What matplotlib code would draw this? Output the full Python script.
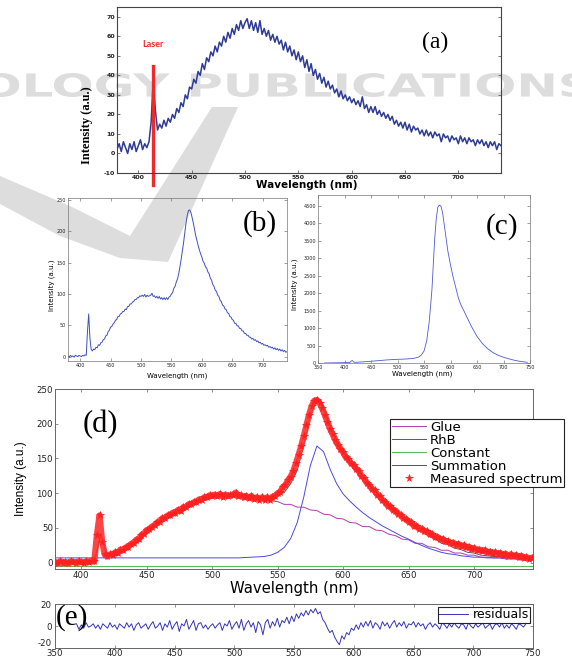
import numpy as np
import matplotlib
matplotlib.use("Agg")
import matplotlib.pyplot as plt
from matplotlib.patches import PathPatch, Polygon
from matplotlib.textpath import TextPath
from matplotlib.font_manager import FontProperties
from matplotlib.transforms import Affine2D

plt.rcParams['font.family'] = ['DejaVu Sans']
plt.rcParams['axes.unicode_minus'] = False

# ---- values ----
# (a) glue fluorescence, 2 nm steps 380..740 nm
wl_a = np.arange(380, 741, 2)
glue_a = [2, 5, 1, 6, 3, 0, 5, 2, 6, 1,
          4, 7, 2, 5, 3, 6, 16, 38, 22, 12,
          15, 13, 17, 14, 18, 16, 20, 18, 23, 21,
          26, 24, 30, 28, 34, 33, 38, 36, 42, 40,
          46, 43, 49, 47, 52, 50, 55, 52, 57, 55,
          60, 57, 62, 59, 64, 61, 66, 63, 68, 64,
          67, 69, 64, 68, 63, 67, 62, 68, 61, 64,
          60, 63, 58, 61, 57, 60, 56, 58, 53, 57,
          52, 55, 50, 53, 48, 52, 47, 50, 44, 48,
          42, 46, 40, 43, 38, 41, 36, 39, 34, 37,
          33, 35, 31, 33, 29, 32, 28, 30, 27, 29,
          26, 28, 25, 27, 24, 29, 23, 25, 21, 24,
          21, 24, 20, 22, 19, 21, 18, 20, 17, 19,
          15, 17, 14, 16, 13, 16, 12, 15, 11, 14,
          12, 13, 10, 12, 9, 12, 9, 11, 8, 11,
          9, 10, 6, 10, 8, 9, 6, 9, 7, 8,
          5, 9, 6, 8, 5, 8, 6, 7, 4, 7,
          5, 7, 4, 6, 3, 6, 4, 6, 2, 5,
          4]
laser_nm = 413.5

# measured spectrum, (b) line and (d) red stars, 2 nm steps 380..744 nm
wl_meas = np.arange(380, 745, 2)
measured = [1, -1, 2, 0, 1, -1, 2, 1, 0, 2,
            1, 0, 2, 1, 3, 2, 40, 68, 30, 12,
            9, 12, 11, 15, 14, 19, 18, 22, 23, 27,
            28, 33, 34, 40, 42, 47, 48, 52, 54, 58,
            59, 64, 64, 68, 69, 72, 72, 76, 75, 80,
            80, 84, 84, 87, 88, 91, 91, 94, 94, 97,
            96, 98, 96, 99, 95, 98, 96, 97, 98, 101,
            96, 97, 94, 96, 93, 96, 92, 94, 91, 94,
            91, 94, 91, 95, 96, 100, 102, 109, 112, 119,
            124, 132, 143, 155, 168, 182, 198, 213, 225, 233,
            234, 230, 222, 213, 203, 193, 185, 177, 170, 164,
            159, 152, 149, 143, 141, 135, 132, 125, 122, 115,
            112, 106, 104, 98, 96, 90, 88, 82, 81, 76,
            75, 70, 69, 64, 63, 59, 58, 53, 53, 49,
            49, 45, 45, 41, 41, 37, 37, 34, 34, 31,
            31, 28, 29, 26, 27, 24, 25, 22, 23, 20,
            21, 18, 19, 17, 18, 15, 16, 14, 15, 12,
            14, 11, 13, 10, 12, 9, 11, 8, 10, 7,
            8, 6, 7]

# (c) RhB reference spectrum
wl_c = [362, 370, 380, 390, 400, 410, 413, 415, 417, 420,
        430, 440, 450, 460, 470, 480, 490, 500, 510, 520,
        530, 540, 545, 550, 555, 560, 565, 570, 573, 576,
        579, 582, 585, 590, 595, 600, 605, 610, 615, 620,
        625, 630, 640, 650, 660, 670, 680, 690, 700, 710,
        720, 730, 740, 745]
rhb_c = [0, 2, 5, 8, 10, 15, 60, 70, 30, 18,
         28, 38, 50, 62, 75, 88, 97, 105, 110, 118,
         130, 170, 230, 340, 620, 1200, 2100, 3500, 4100, 4450,
         4510, 4480, 4300, 3750, 3200, 2800, 2450, 2150, 1850, 1650,
         1500, 1340, 1030, 760, 560, 410, 300, 220, 165, 120,
         80, 50, 30, 20]

# (d) fit components, 5 nm steps 380..745 nm
wl_fit = np.arange(380, 746, 5)
glue_fit = [-1, 0, -1, 0, -1, 0, 0, 40, 8, 12,
            16, 21, 27, 35, 43, 50, 57, 63, 68, 73,
            78, 83, 87, 91, 93, 94, 95, 95, 94, 93,
            92, 91, 90, 89, 88, 84, 84, 80, 80, 76,
            75, 70, 69, 64, 63, 58, 57, 52, 52, 47,
            46, 41, 39, 34, 33, 28, 28, 23, 22, 18,
            18, 14, 14, 11, 11, 8, 8, 7, 7, 5,
            6, 4, 5, 4]
rhb_fit = [7, 7, 7, 7, 7, 7, 7, 7, 7, 7,
           7, 7, 7, 7, 7, 7, 7, 7, 7, 7,
           7, 7, 7, 7, 7, 7, 7, 7, 7, 7.5,
           8, 8.5, 9, 11, 15, 22, 35, 58, 95, 140,
           168, 160, 135, 114, 99, 89, 80, 72, 65, 59,
           53, 48, 43, 38, 34, 29, 25, 21, 18, 15,
           13, 12, 10, 9, 8, 8, 7, 7, 7, 7,
           7, 7, 7, 7]
constant_fit = -5.0

# (e) residuals, 2 nm steps 368..744 nm
wl_res = np.arange(368, 745, 2)
residuals = [2, -3, 1, -2, 3, -1, 0, 2, -2, 1,
             -3, 2, 0, -2, 3, -1, 1, -3, 2, 0,
             -2, 3, -1, 2, -4, 1, 3, -2, 0, 2,
             -3, 1, 4, -2, 0, 3, -4, 2, -1, 5,
             -3, 1, 4, -5, 2, 0, 6, -3, 1, 5,
             -4, 2, 3, -2, 1, -3, 0, 2, -2, 1,
             3, -4, 2, 0, 5, -3, 1, 4, -2, 6,
             -4, 2, 5, -1, 3, -6, 4, 1, -8, 3,
             6, -2, 4, 0, 7, -1, 5, 3, 8, 2,
             9, 4, 11, 7, 12, 9, 14, 10, 15, 12,
             16, 11, 13, 6, 3, -2, -6, -4, -10, -14,
             -17, -9, -12, -6, -8, -2, -4, 1, -3, 3,
             -1, 4, 0, 5, -2, 3, 1, -3, 4, 0,
             3, -2, 2, 5, -1, 3, 0, 4, -2, 2,
             1, 4, -1, 3, 0, 2, -3, 1, 3, -1,
             2, 0, -3, 3, 1, -2, 2, -1, 3, 0,
             -2, 2, 1, -3, 3, 0, -2, 2, -1, 1,
             3, -2, 0, 2, -3, 1, 2, -1, 3, -2,
             1, -2, 2, 0, -3, 2, 1, -1, 2]

summation_fit = np.array(glue_fit) + np.array(rhb_fit) + constant_fit

# ---- layout helpers (pixel boxes, origin top-left) ----
W, H = 572, 659
fig = plt.figure(figsize=(W / 100, H / 100), dpi=100)


def box(l, t, r, b):
    return [l / W, 1 - b / H, (r - l) / W, (b - t) / H]


def ftext(x, y, s, **kw):
    fig.text(x / W, 1 - y / H, s, ha='center', va='center', **kw)


def style(ax, size, color='#666666', lw=0.6, top=True):
    ax.set_facecolor('none')
    for sp in ax.spines.values():
        sp.set_color(color)
        sp.set_linewidth(lw)
    ax.tick_params(direction='in', top=top, right=True, length=2.5,
                   width=0.5, labelsize=size, pad=1.5, colors=color,
                   labelcolor='#222222')


# ---- watermark behind the panels ----
wm = '#dddddd'
tp = TextPath((0, 0), 'OLOGY PUBLICATIONS', size=10,
              prop=FontProperties(family='DejaVu Sans', weight='bold'))
ext = tp.get_extents()
tr = (Affine2D().translate(-ext.x0, -ext.y0)
      .scale(608 / ext.width, 24 / ext.height)
      .translate(-18, H - 97).scale(1 / W, 1 / H) + fig.transFigure)
fig.add_artist(PathPatch(tp, transform=tr, fc=wm, ec='none', zorder=-5))
v_shape = [(0, 176), (70, 206), (130, 236), (212, 107), (238, 107),
           (168, 262), (120, 258), (60, 236), (0, 204)]
fig.add_artist(Polygon([(x / W, 1 - y / H) for x, y in v_shape],
                       closed=True, transform=fig.transFigure,
                       fc=wm, ec='none', zorder=-5))

# ---- (a) ----
ax_a = fig.add_axes(box(117, 7, 501, 173))
style(ax_a, 4.5, color='#444444', lw=0.8, top=False)
ax_a.plot(wl_a, glue_a, color='#2d3b94', lw=1.1)
ax_a.plot([laser_nm, laser_nm], [45, -16], color='#ee2a2a', lw=2.4,
          clip_on=False)
ax_a.text(laser_nm, 56, 'Laser', color='#ee2a2a', fontsize=6.5,
          family='Lato', weight='bold', ha='center', va='center')
ax_a.set_xlim(380, 740)
ax_a.set_ylim(-10, 75)
ax_a.set_xticks(range(400, 701, 50))
ax_a.set_yticks(range(-10, 71, 10))
for lab in ax_a.get_xticklabels() + ax_a.get_yticklabels():
    lab.set_fontweight('bold')
ftext(307, 185, 'Wavelength (nm)', fontsize=7.5, weight='bold')
ftext(87, 125, 'Intensity (a.u.)', fontsize=9, weight='bold',
      family='Liberation Serif', rotation=90)
ftext(435, 42, '(a)', fontsize=17, family='Liberation Serif')

# ---- (b) ----
ax_b = fig.add_axes(box(68, 198, 287, 361))
style(ax_b, 3.5, color='#777777', lw=0.5)
ax_b.plot(wl_meas, measured, color='#3f4fbf', lw=0.7)
ax_b.set_xlim(380, 740)
ax_b.set_ylim(-7, 253)
ax_b.set_xticks(range(400, 701, 50))
ax_b.set_yticks(range(0, 251, 50))
ax_b.tick_params(length=2)
ftext(177, 376, 'Wavelength (nm)', fontsize=5)
ftext(52, 285, 'Intensity (a.u.)', fontsize=5, rotation=90)
ftext(260, 224, '(b)', fontsize=21, family='Liberation Serif')

# ---- (c) ----
ax_c = fig.add_axes(box(318, 195, 530, 363))
style(ax_c, 3.5, color='#777777', lw=0.5)
ax_c.plot(wl_c, rhb_c, color='#4a5bd0', lw=0.6)
ax_c.set_xlim(350, 750)
ax_c.set_ylim(0, 4800)
ax_c.set_xticks(range(350, 751, 50))
ax_c.set_yticks(range(0, 4501, 500))
ax_c.tick_params(length=2)
ftext(422, 374, 'Wavelength (nm)', fontsize=5)
ftext(295, 284, 'Intensity (a.u.)', fontsize=5, rotation=90)
ftext(502, 227, '(c)', fontsize=21, family='Liberation Serif')

# ---- (d) ----
ax_d = fig.add_axes(box(55, 389, 533, 569))
style(ax_d, 6.2, color='#666666', lw=0.7)
ax_d.plot(wl_fit, glue_fit, color='#b03cb0', lw=0.7, label='Glue')
ax_d.plot(wl_fit, rhb_fit, color='#4a4ae0', lw=0.7, label='RhB')
ax_d.plot(wl_fit, np.full(len(wl_fit), constant_fit), color='#5cb85c',
          lw=0.8, label='Constant')
ax_d.plot(wl_fit, summation_fit, color='#555555', lw=0.7,
          label='Summation')
# dense star markers merge into a thick band in the original
ax_d.plot(wl_meas, measured, color='#ff3030', lw=4.5, alpha=0.9,
          solid_joinstyle='round')
ax_d.plot(wl_meas, measured, ls='none', marker='*', ms=5.5, mew=0.5,
          color='#ff2020', label='Measured spectrum')
ax_d.set_xlim(380, 745)
ax_d.set_ylim(-9, 250)
ax_d.set_xticks(range(400, 701, 50))
ax_d.set_yticks(range(0, 251, 50))
leg = ax_d.legend(loc='upper left',
                  bbox_to_anchor=((390 - 55) / 478, 1 - (419 - 389) / 180),
                  fontsize=9.5, fancybox=False, edgecolor='#222222',
                  framealpha=1, borderpad=0.12, labelspacing=0.0,
                  handlelength=2.6, handletextpad=0.3, borderaxespad=0,
                  numpoints=1)
leg.get_frame().set_linewidth(0.8)
ftext(294, 588, 'Wavelength (nm)', fontsize=10.7)
ftext(21, 479, 'Intensity (a.u.)', fontsize=8.5, family='Liberation Sans',
      rotation=90)
ftext(100, 425, '(d)', fontsize=22, family='Liberation Serif')

# ---- (e) ----
ax_e = fig.add_axes(box(55, 604, 533, 648))
style(ax_e, 6.2, color='#666666', lw=0.7)
ax_e.tick_params(axis='y', pad=2.5)
ax_e.tick_params(axis='x', pad=1.0)
ax_e.plot(wl_res, residuals, color='#3535b5', lw=0.7, label='residuals')
ax_e.set_xlim(350, 750)
ax_e.set_ylim(-20, 20)
ax_e.set_xticks(range(350, 751, 50))
ax_e.set_yticks([-20, 0, 20])
ax_e.get_yticklabels()[0].set_verticalalignment('bottom')
leg_e = ax_e.legend(loc='upper right',
                    bbox_to_anchor=((530 - 55) / 478, 1 - (607 - 604) / 44),
                    fontsize=9, fancybox=False, edgecolor='#222222',
                    framealpha=1, borderpad=0.1, handlelength=2.3,
                    handletextpad=0.4, borderaxespad=0)
leg_e.get_frame().set_linewidth(0.8)
ftext(72, 618, '(e)', fontsize=21, family='Liberation Serif')

fig.savefig('out.png', dpi=100)
